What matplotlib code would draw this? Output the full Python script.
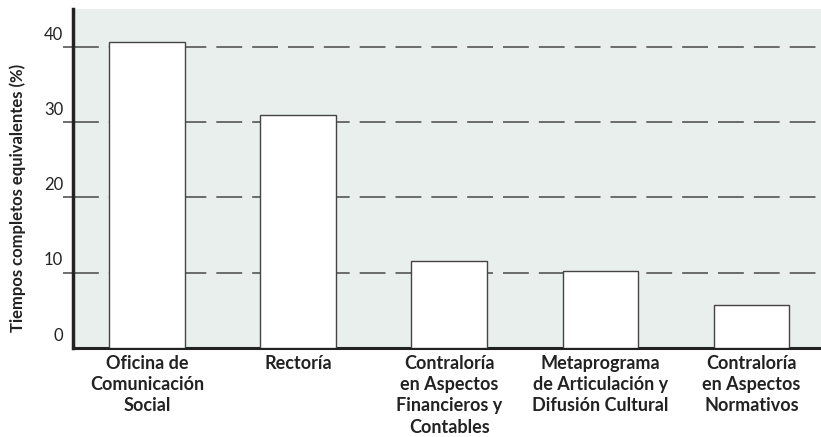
import numpy as np
import matplotlib
matplotlib.use("Agg")
from matplotlib import pyplot as plt
from matplotlib.transforms import ScaledTranslation

# data
categories = ["Oficina de\nComunicación\nSocial",
              "Rectoría",
              "Contraloría\nen Aspectos\nFinancieros y\nContables",
              "Metaprograma\nde Articulación y\nDifusión Cultural",
              "Contraloría\nen Aspectos\nNormativos"]
values = [40.6, 30.9, 11.5, 10.2, 5.7]
yticks = [0, 10, 20, 30, 40]

plt.rcParams['font.family'] = ['Lato', 'DejaVu Sans']

fig = plt.figure(figsize=(8.21, 4.37), dpi=100)
ax = fig.add_axes([0.0889, 0.2037, 0.9111, 0.7757])
ax.set_facecolor('#e9efec')

x = np.arange(len(categories))
ax.bar(x, values, width=0.5, color='white', edgecolor='#444444',
       linewidth=1.0, zorder=3)

# dashed reference lines
for v in yticks[1:]:
    ax.axhline(v, color='#555555', linewidth=1.2,
               linestyle=(0, (15.5, 6.0)), zorder=1)

ax.set_xlim(-0.49, 4.46)
ax.set_ylim(0, 45)

ax.set_yticks(yticks)
ax.set_yticklabels([str(t) for t in yticks], fontsize=12, color='#222222')
ax.tick_params(axis='y', length=7, width=1.2, color='#555555', pad=0)
ax.yaxis.get_major_ticks()[0].tick1line.set_visible(False)
off = ScaledTranslation(0, 3 / 72, fig.dpi_scale_trans)
for lab in ax.get_yticklabels():
    lab.set_verticalalignment('bottom')
    lab.set_transform(lab.get_transform() + off)

ax.set_xticks(x)
ax.set_xticklabels(categories, fontsize=13, fontweight='bold',
                   color='#222222', linespacing=1.3, va='top')
ax.tick_params(axis='x', length=0, pad=5)

for s in ['top', 'right']:
    ax.spines[s].set_visible(False)
ax.spines['left'].set_linewidth(2.5)
ax.spines['left'].set_color('#222222')
ax.spines['bottom'].set_linewidth(2.2)
ax.spines['bottom'].set_color('#222222')

fig.text(0.021, 1 - 198 / 437, "Tiempos completos equivalentes (%)",
         rotation=90, fontsize=12, fontweight='bold', color='#222222',
         ha='center', va='center')

fig.savefig('out.png', dpi=100)
